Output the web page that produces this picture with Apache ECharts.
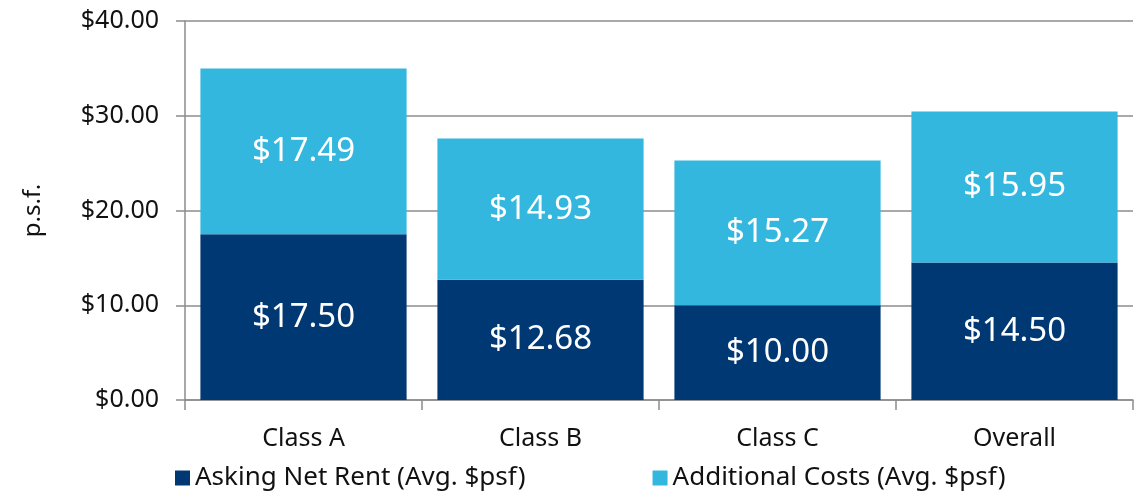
<!DOCTYPE html>
<html><head><meta charset="utf-8">
<script src="https://cdn.jsdelivr.net/npm/echarts@6/dist/echarts.min.js"></script>
<style>html,body{margin:0;padding:0;background:#fff}#c{width:1141px;height:496px}</style>
</head><body><div id="c"></div>
<script>
const categories = ['Class A', 'Class B', 'Class C', 'Overall'];
const askingNetRent = [17.50, 12.68, 10.00, 14.50];
const additionalCosts = [17.49, 14.93, 15.27, 15.95];
const seriesNames = ['Asking Net Rent (Avg. $psf)', 'Additional Costs (Avg. $psf)'];
const yTicks = { min: 0, max: 40, interval: 10 };
const FONT = '"Noto Sans", "Open Sans", sans-serif';
const fmt = v => '$' + Number(v).toFixed(2);

const chart = echarts.init(document.getElementById('c'), null, { renderer: 'canvas' });
chart.setOption({
  animation: false,
  textStyle: { fontFamily: FONT },
  grid: { left: 185, right: 8, top: 21, bottom: 96, containLabel: false },
  legend: {
    bottom: 0, left: 170, itemWidth: 15, itemHeight: 15, itemGap: 127,
    icon: 'rect',
    textStyle: { fontSize: 26, color: '#111', fontFamily: FONT },
    data: seriesNames
  },
  xAxis: {
    type: 'category', data: categories,
    axisLine: { lineStyle: { color: '#8c8c8c', width: 1.5 } },
    axisTick: { show: true, alignWithLabel: false, length: 10, lineStyle: { color: '#8c8c8c', width: 1.5 } },
    axisLabel: { fontSize: 25, color: '#111', margin: 26, fontFamily: FONT }
  },
  yAxis: {
    type: 'value', min: yTicks.min, max: yTicks.max, interval: yTicks.interval,
    name: 'p.s.f.', nameLocation: 'middle', nameGap: 140, nameRotate: 90,
    nameTextStyle: { fontSize: 24, color: '#111', fontFamily: FONT },
    axisLine: { show: true, lineStyle: { color: '#8c8c8c', width: 1.5 } },
    axisTick: { show: true, length: 9, lineStyle: { color: '#8c8c8c', width: 1.5 } },
    splitLine: { show: true, lineStyle: { color: '#8c8c8c', width: 1.5 } },
    axisLabel: { fontSize: 25, color: '#111', margin: 26, fontFamily: FONT, formatter: fmt }
  },
  series: [
    {
      name: seriesNames[0], type: 'bar', stack: 'total', data: askingNetRent,
      barCategoryGap: '13%',
      itemStyle: { color: '#003874' },
      label: { show: true, position: 'inside', color: '#fff', fontSize: 33, fontFamily: FONT, formatter: p => fmt(p.value) }
    },
    {
      name: seriesNames[1], type: 'bar', stack: 'total', data: additionalCosts,
      barCategoryGap: '13%',
      itemStyle: { color: '#34b7de' },
      label: { show: true, position: 'inside', color: '#fff', fontSize: 33, fontFamily: FONT, formatter: p => fmt(p.value) }
    }
  ]
});
</script></body></html>
